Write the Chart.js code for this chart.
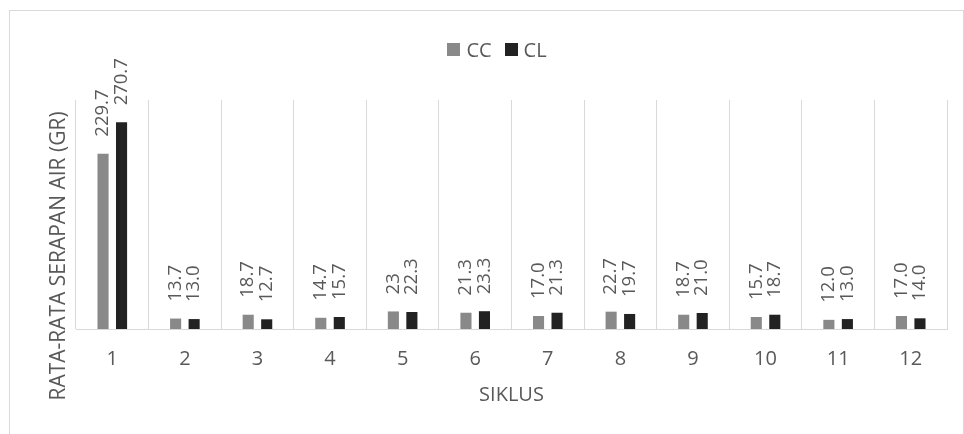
<!DOCTYPE html>
<html>
<head>
<meta charset="utf-8">
<script src="https://cdn.jsdelivr.net/npm/chart.js@4.4.1/dist/chart.umd.min.js"></script>
<style>
  html, body { margin: 0; padding: 0; background: #ffffff; overflow: hidden; width: 964px; height: 434px; }
  #frame { position: absolute; left: 9px; top: 10px; width: 953px; height: 500px; border: 1px solid #d9d9d9; }
  #wrap { position: absolute; left: 0; top: 0; width: 964px; height: 434px; }
</style>
</head>
<body>
<div id="frame"></div>
<div id="wrap"><canvas id="chart" width="964" height="434"></canvas></div>
<script>
// Cycles on the x axis
const cycles = ['1', '2', '3', '4', '5', '6', '7', '8', '9', '10', '11', '12'];

// Average water absorption per cycle (gr)
const ccValues = [229.7, 13.7, 18.7, 14.7, 23, 21.3, 17.0, 22.7, 18.7, 15.7, 12.0, 17.0];
const clValues = [270.7, 13.0, 12.7, 15.7, 22.3, 23.3, 21.3, 19.7, 21.0, 18.7, 13.0, 14.0];

// Value labels printed above each bar
const ccLabels = ['229.7', '13.7', '18.7', '14.7', '23', '21.3', '17.0', '22.7', '18.7', '15.7', '12.0', '17.0'];
const clLabels = ['270.7', '13.0', '12.7', '15.7', '22.3', '23.3', '21.3', '19.7', '21.0', '18.7', '13.0', '14.0'];

const seriesNames = ['CC', 'CL'];
const xTitle = 'SIKLUS';
const yTitle = 'RATA-RATA SERAPAN AIR (GR)';
const yMin = 0;
const yMax = 300;

const FONT = '"Open Sans", "Noto Sans", sans-serif';
const TEXT = '#595959';
const GRID = '#d9d9d9';

const valueLabelSets = [ccLabels, clLabels];

// Value labels, legend and the vertical axis title
const decorations = {
  id: 'decorations',
  afterDatasetsDraw(chart) {
    const ctx = chart.ctx;
    ctx.save();
    ctx.font = '18.5px ' + FONT;
    ctx.fillStyle = TEXT;
    ctx.textAlign = 'left';
    ctx.textBaseline = 'middle';
    chart.data.datasets.forEach((ds, di) => {
      const meta = chart.getDatasetMeta(di);
      meta.data.forEach((bar, i) => {
        ctx.save();
        ctx.translate(bar.x, bar.y - 17);
        ctx.rotate(-Math.PI / 2);
        ctx.fillText(valueLabelSets[di][i], 0, 0);
        ctx.restore();
      });
    });
    ctx.restore();

    // legend
    ctx.save();
    ctx.font = '20px ' + FONT;
    ctx.textAlign = 'left';
    ctx.textBaseline = 'alphabetic';
    const box = 13, gapText = 6, gapItem = 13;
    const widths = chart.data.datasets.map(ds => box + gapText + ctx.measureText(ds.label).width);
    const total = widths.reduce((a, b) => a + b, 0) + gapItem * (widths.length - 1);
    let x = 497 - total / 2;
    chart.data.datasets.forEach((ds, di) => {
      ctx.fillStyle = ds.backgroundColor;
      ctx.fillRect(Math.round(x), 43, box, box);
      ctx.fillStyle = TEXT;
      ctx.fillText(ds.label, x + box + gapText, 57);
      x += widths[di] + gapItem;
    });
    ctx.restore();

    // y axis title
    ctx.save();
    ctx.font = '21px ' + FONT;
    ctx.fillStyle = TEXT;
    ctx.textAlign = 'center';
    ctx.textBaseline = 'middle';
    ctx.translate(59, 256);
    ctx.rotate(-Math.PI / 2);
    ctx.fillText(yTitle, 0, 0);
    ctx.restore();
  }
};

new Chart(document.getElementById('chart'), {
  type: 'bar',
  data: {
    labels: cycles,
    datasets: [
      { label: seriesNames[0], data: ccValues, backgroundColor: '#898989', borderWidth: 0 },
      { label: seriesNames[1], data: clValues, backgroundColor: '#222222', borderWidth: 0 }
    ]
  },
  options: {
    responsive: false,
    animation: false,
    devicePixelRatio: 1,
    datasets: { bar: { categoryPercentage: 0.51, barPercentage: 0.6 } },
    layout: { padding: { left: 76, right: 17, top: 100, bottom: 0 } },
    plugins: { legend: { display: false }, tooltip: { enabled: false } },
    scales: {
      x: {
        offset: true,
        grid: { color: GRID, lineWidth: 1, drawTicks: false, offset: true },
        border: { color: GRID, width: 1 },
        ticks: { color: TEXT, font: { family: FONT, size: 20 }, padding: 18, maxRotation: 0 },
        title: { display: true, text: xTitle, color: TEXT, font: { family: FONT, size: 20 }, padding: { top: 0, bottom: 27 } },
        afterFit(scale) { scale.height = 105; }
      },
      y: { display: false, min: yMin, max: yMax }
    }
  },
  plugins: [decorations]
});
</script>
</body>
</html>
